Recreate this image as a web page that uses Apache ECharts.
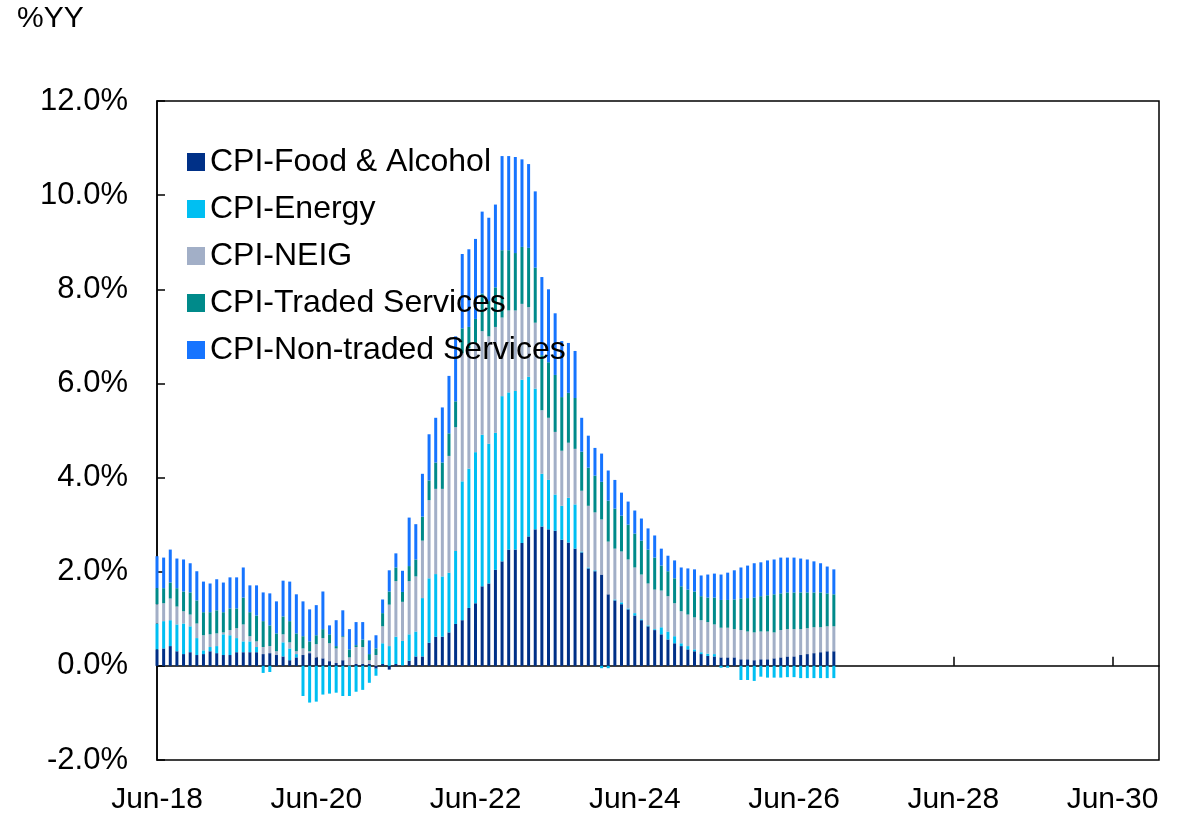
<!DOCTYPE html>
<html>
<head>
<meta charset="utf-8">
<title>UK CPI contributions</title>
<script src="https://cdn.jsdelivr.net/npm/echarts/dist/echarts.min.js"></script>
<style>
  html, body { margin: 0; padding: 0; background: #fff; }
  #chart { width: 1180px; height: 815px; }
</style>
</head>
<body>
<div id="chart"></div>
<script>
// monthly axis, Jun-18 .. Jan-31; bars run Jun-18 .. Dec-26
const MONTH_NAMES = ['Jan', 'Feb', 'Mar', 'Apr', 'May', 'Jun', 'Jul', 'Aug', 'Sep', 'Oct', 'Nov', 'Dec']
const months = []
for (let i = 0; i < 152; i++) {
  const m = 5 + i
  months.push(MONTH_NAMES[m % 12] + '-' + (18 + Math.floor(m / 12)))
}

const food = [0.35, 0.37, 0.42, 0.31, 0.25, 0.29, 0.23, 0.25, 0.31, 0.27,
  0.23, 0.23, 0.29, 0.29, 0.29, 0.29, 0.25, 0.27, 0.23, 0.20,
  0.12, 0.18, 0.23, 0.27, 0.18, 0.16, 0.10, 0.06, 0.12, 0.01,
  0.04, 0.04, 0.04, -0.06, 0.04, -0.08, 0.04, 0.01, 0.11, 0.20,
  0.20, 0.49, 0.62, 0.62, 0.71, 0.89, 0.97, 1.23, 1.33, 1.69,
  1.75, 2.04, 2.22, 2.47, 2.47, 2.61, 2.75, 2.90, 2.96, 2.90,
  2.87, 2.68, 2.62, 2.49, 2.41, 2.07, 2.01, 1.94, 1.52, 1.39,
  1.31, 1.20, 1.07, 0.97, 0.84, 0.76, 0.67, 0.56, 0.48, 0.42,
  0.35, 0.31, 0.25, 0.21, 0.20, 0.18, 0.18, 0.18, 0.14, 0.14,
  0.12, 0.14, 0.14, 0.16, 0.18, 0.20, 0.20, 0.23, 0.25, 0.27,
  0.29, 0.31, 0.31]

const energy = [0.55, 0.58, 0.55, 0.57, 0.65, 0.55, 0.36, 0.08, 0.09, 0.15,
  0.44, 0.42, 0.30, 0.23, 0.23, 0.11, -0.15, -0.13, 0, 0.30,
  0.25, 0.07, -0.64, -0.78, -0.76, -0.61, -0.59, -0.57, -0.64, -0.64,
  -0.55, -0.51, -0.36, -0.15, 0.44, 0.42, 0.58, 0.52, 0.56, 0.53,
  1.24, 1.37, 1.33, 1.28, 1.27, 1.55, 2.95, 2.96, 3.21, 3.22,
  2.97, 2.91, 3.51, 3.34, 3.37, 3.47, 3.39, 2.99, 1.12, 1.05,
  0.77, 0.72, 0.95, 0.94, 0.02, 0.02, 0.02, -0.05, -0.05, 0.02,
  0.04, 0.02, 0.05, 0.02, 0.02, 0.02, 0.15, 0.17, 0.15, 0.06,
  0.07, 0.04, 0.04, 0.05, 0.05, -0.04, -0.04, 0, -0.30, -0.30,
  -0.32, -0.23, -0.25, -0.25, -0.25, -0.24, -0.24, -0.26, -0.26, -0.26,
  -0.26, -0.26, -0.26]

const neig = [0.41, 0.38, 0.46, 0.38, 0.26, 0.25, 0.31, 0.32, 0.27, 0.27,
  0.04, 0.11, 0.21, 0.36, 0.11, 0.12, 0.15, 0.15, 0.08, 0.17,
  0.13, 0.06, 0.14, 0.04, 0.28, 0.43, 0.38, 0.31, 0.49, 0.17,
  0.36, 0.36, 0.08, 0.23, 0.36, 0.88, 1.18, 0.83, 1.13, 1.17,
  1.22, 1.66, 1.81, 1.86, 2.48, 2.63, 2.72, 2.56, 2.32, 2.20,
  2.28, 2.25, 1.67, 1.74, 1.71, 1.61, 1.48, 1.40, 1.35, 1.32,
  1.33, 1.17, 1.17, 1.18, 1.29, 1.31, 1.23, 1.17, 1.12, 1.08,
  1.08, 1.04, 0.97, 0.95, 0.89, 0.84, 0.78, 0.75, 0.70, 0.68,
  0.67, 0.68, 0.68, 0.67, 0.63, 0.63, 0.63, 0.60, 0.62, 0.59,
  0.59, 0.59, 0.59, 0.55, 0.58, 0.58, 0.58, 0.55, 0.55, 0.55,
  0.53, 0.53, 0.53]

const traded = [0.34, 0.32, 0.34, 0.39, 0.42, 0.47, 0.49, 0.49, 0.47, 0.49,
  0.43, 0.46, 0.42, 0.57, 0.51, 0.55, 0.55, 0.44, 0.38, 0.38,
  0.45, 0.38, 0.26, 0.21, 0.19, 0.19, 0.19, 0.05, 0.02, 0.17,
  0.04, 0.16, 0.13, 0.14, 0.28, 0.28, 0.29, 0.21, 0.32, 0.36,
  0.51, 0.42, 0.56, 0.56, 0.48, 0.55, 0.53, 0.45, 0.51, 0.80,
  0.75, 0.84, 1.43, 1.28, 1.22, 1.21, 1.26, 1.17, 1.17, 1.18,
  1.21, 1.14, 1.06, 1.08, 0.83, 0.81, 0.78, 0.80, 0.87, 0.85,
  0.76, 0.74, 0.72, 0.72, 0.72, 0.68, 0.53, 0.53, 0.53, 0.53,
  0.53, 0.55, 0.51, 0.52, 0.57, 0.59, 0.59, 0.63, 0.67, 0.71,
  0.74, 0.75, 0.77, 0.81, 0.78, 0.78, 0.78, 0.78, 0.76, 0.74,
  0.74, 0.70, 0.68]

const nonTraded = [0.68, 0.65, 0.70, 0.63, 0.68, 0.62, 0.62, 0.65, 0.61, 0.66,
  0.63, 0.66, 0.66, 0.64, 0.57, 0.64, 0.61, 0.68, 0.68, 0.76,
  0.84, 0.83, 0.74, 0.68, 0.64, 0.80, 0.19, 0.55, 0.55, 0.43,
  0.49, 0.37, 0.29, 0.28, 0.29, 0.45, 0.30, 0.45, 1.03, 0.75,
  0.91, 0.98, 0.95, 1.17, 1.22, 1.38, 1.58, 1.65, 1.70, 1.74,
  1.77, 1.76, 2.00, 2.00, 2.04, 1.86, 1.78, 1.62, 1.66, 1.55,
  1.31, 1.19, 1.06, 1.00, 0.72, 0.68, 0.59, 0.60, 0.64, 0.61,
  0.49, 0.49, 0.49, 0.47, 0.45, 0.47, 0.36, 0.33, 0.38, 0.40,
  0.45, 0.47, 0.44, 0.49, 0.51, 0.54, 0.58, 0.62, 0.66, 0.69,
  0.73, 0.72, 0.74, 0.74, 0.76, 0.74, 0.74, 0.72, 0.70, 0.66,
  0.62, 0.57, 0.53]

const seriesDefs = [
  { name: 'CPI-Food & Alcohol', data: food, color: '#003087' },
  { name: 'CPI-Energy', data: energy, color: '#00BFF2' },
  { name: 'CPI-NEIG', data: neig, color: '#A2AFC7' },
  { name: 'CPI-Traded Services', data: traded, color: '#008A8A' },
  { name: 'CPI-Non-traded Services', data: nonTraded, color: '#1674FF' }
]

const FONT = '"Liberation Sans", Arial, sans-serif'
const everyTwoYears = (index) => index % 24 === 0

const chart = echarts.init(document.getElementById('chart'))
chart.setOption({
  animation: false,
  textStyle: { fontFamily: FONT },
  title: {
    text: '%YY',
    left: 17,
    top: 4,
    padding: 0,
    textStyle: { fontSize: 30, fontWeight: 'normal', color: '#000', fontFamily: FONT }
  },
  grid: {
    show: true,
    left: 157,
    right: 21,
    top: 101,
    bottom: 53,
    borderColor: '#000',
    borderWidth: 1.5,
    containLabel: false
  },
  legend: {
    orient: 'vertical',
    left: 187,
    top: 146,
    padding: 0,
    itemGap: 15,
    itemWidth: 18,
    itemHeight: 18,
    icon: 'rect',
    textStyle: { fontSize: 32, color: '#000', fontFamily: FONT },
    data: seriesDefs.map(s => s.name)
  },
  xAxis: [
    {
      type: 'category',
      data: months,
      boundaryGap: false,
      position: 'bottom',
      axisLine: { show: false, onZero: false },
      axisTick: { show: false },
      splitLine: { show: false },
      axisLabel: {
        interval: everyTwoYears,
        fontSize: 30,
        color: '#000',
        margin: 25,
        fontFamily: FONT
      }
    },
    {
      // zero line with tick marks every two years
      type: 'category',
      data: months,
      boundaryGap: false,
      position: 'bottom',
      axisLine: { show: true, onZero: true, lineStyle: { color: '#000', width: 1.5 } },
      axisTick: { show: true, inside: true, length: 9, interval: everyTwoYears, lineStyle: { color: '#000', width: 1.5 } },
      axisLabel: { show: false },
      splitLine: { show: false }
    }
  ],
  yAxis: {
    type: 'value',
    min: -2,
    max: 12,
    interval: 2,
    axisLine: { show: true, lineStyle: { color: '#000', width: 1.5 } },
    axisTick: { show: true, inside: true, length: 8, lineStyle: { color: '#000', width: 1.5 } },
    splitLine: { show: false },
    axisLabel: {
      fontSize: 31,
      color: '#000',
      margin: 29,
      fontFamily: FONT,
      formatter: (v) => v.toFixed(1) + '%'
    }
  },
  series: seriesDefs.map(s => ({
    name: s.name,
    type: 'bar',
    stack: 'cpi',
    xAxisIndex: 0,
    barWidth: 3,
    itemStyle: { color: s.color },
    data: s.data
  }))
})
</script>
</body>
</html>
